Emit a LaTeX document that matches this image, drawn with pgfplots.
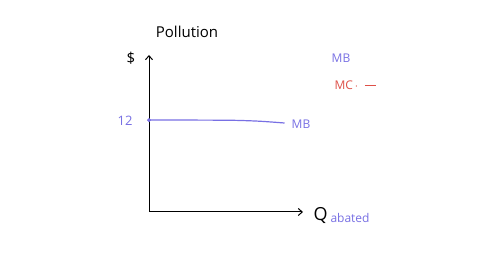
\documentclass[border=0pt]{standalone}
\usepackage{pgfplots}
\pgfplotsset{compat=1.18}
\usepackage{fontspec}
\setmainfont{Open Sans}
\usetikzlibrary{arrows.meta}
\definecolor{mbpurple}{RGB}{120,112,228}
\definecolor{mcred}{RGB}{222,80,72}
\begin{document}
\begin{tikzpicture}
\fill[white] (0pt,0pt) rectangle (480pt,270pt);
\begin{axis}[
  at={(149pt,58pt)}, anchor=origin,
  scale only axis, width=154pt, height=157pt,
  xmin=0, xmax=10, ymin=0, ymax=20.5,
  axis lines=left,
  axis line style={black, line width=1pt, -{Straight Barb[length=4pt,width=7pt]}},
  xtick=\empty, ytick=\empty,
  clip=false,
]
\addplot[mbpurple, line width=1.2pt, smooth] coordinates {(0,12) (3,12) (5.5,11.97) (7.2,11.85) (8.8,11.62)};
\addplot[only marks, mark=*, mark size=1.8pt, mbpurple] coordinates {(0,12)};
\end{axis}
\node[font=\fontsize{15}{15}\selectfont] at (187pt,238pt) {Pollution};
\node[font=\fontsize{15}{15}\selectfont] at (131pt,212pt) {\$};
\node[font=\fontsize{13}{13}\selectfont, text=mbpurple] at (125pt,149pt) {12};
\node[font=\fontsize{12}{12}\selectfont, text=mbpurple] at (301pt,146pt) {MB};
\node[font=\fontsize{12}{12}\selectfont, text=mbpurple] at (341pt,212pt) {MB};
\node[font=\fontsize{12}{12}\selectfont, text=mcred, anchor=west] at (331pt,185pt) {MC\,$\cdot$\;\;\rule[3pt]{11pt}{1pt}};
\node[font=\fontsize{18}{18}\selectfont, anchor=west] at (310pt,54pt) {Q};
\node[font=\fontsize{12}{12}\selectfont, text=mbpurple, anchor=west] at (327pt,52pt) {abated};
\end{tikzpicture}
\end{document}
